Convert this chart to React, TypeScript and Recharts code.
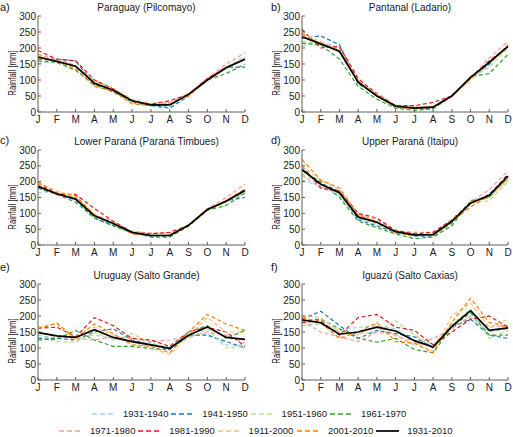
import React from "react";
import { LineChart, Line, XAxis, YAxis } from "recharts";

// month ticks
const months = ["J", "F", "M", "A", "M", "J", "J", "A", "S", "O", "N", "D"];
const monthIdx = [0, 1, 2, 3, 4, 5, 6, 7, 8, 9, 10, 11];
const yTicks = [0, 50, 100, 150, 200, 250, 300];

// decades (label typo "1911-2000" kept as in the figure)
const periods = [
  "1931-1940",
  "1941-1950",
  "1951-1960",
  "1961-1970",
  "1971-1980",
  "1981-1990",
  "1911-2000",
  "2001-2010",
  "1931-2010",
];

// rows follow the periods order, monthly rainfall in mm
const paraguay = [
  [152, 160, 140, 88, 70, 35, 22, 15, 55, 100, 140, 175],
  [165, 165, 160, 85, 68, 30, 20, 12, 50, 100, 140, 140],
  [180, 165, 145, 98, 75, 40, 28, 28, 55, 100, 135, 170],
  [160, 155, 130, 85, 62, 32, 20, 22, 55, 100, 120, 150],
  [180, 165, 145, 90, 72, 35, 25, 30, 58, 105, 150, 185],
  [192, 165, 160, 100, 72, 35, 25, 35, 55, 105, 140, 165],
  [175, 160, 140, 95, 70, 30, 25, 25, 50, 100, 140, 165],
  [170, 155, 135, 80, 65, 25, 20, 25, 50, 100, 140, 165],
  [172, 158, 143, 90, 68, 35, 22, 22, 55, 100, 138, 165],
];

const pantanal = [
  [205, 220, 200, 90, 55, 20, 15, 15, 50, 100, 150, 205],
  [230, 238, 210, 88, 52, 20, 12, 12, 50, 105, 150, 210],
  [220, 215, 195, 100, 55, 22, 18, 18, 50, 105, 140, 200],
  [215, 210, 165, 80, 40, 12, 5, 10, 50, 110, 120, 180],
  [240, 215, 200, 100, 60, 18, 15, 15, 55, 105, 170, 220],
  [258, 200, 205, 105, 55, 20, 20, 30, 50, 105, 160, 205],
  [245, 220, 185, 95, 55, 15, 12, 15, 50, 100, 155, 210],
  [245, 210, 190, 95, 50, 15, 10, 15, 50, 110, 155, 205],
  [235, 213, 190, 93, 50, 18, 12, 15, 50, 108, 155, 205],
];

const lowerParana = [
  [165, 165, 140, 90, 65, 40, 30, 32, 62, 110, 140, 165],
  [180, 160, 145, 85, 62, 38, 28, 28, 60, 110, 140, 150],
  [185, 165, 150, 95, 70, 45, 35, 30, 65, 110, 135, 180],
  [180, 160, 135, 85, 60, 40, 25, 25, 60, 110, 125, 165],
  [190, 158, 150, 95, 75, 42, 38, 38, 62, 115, 150, 192],
  [195, 160, 160, 115, 75, 40, 35, 40, 62, 112, 140, 175],
  [195, 170, 155, 95, 70, 40, 30, 32, 65, 115, 140, 170],
  [200, 165, 155, 95, 68, 35, 30, 30, 62, 112, 140, 175],
  [185, 162, 145, 92, 68, 40, 30, 30, 62, 112, 138, 172],
];

const upperParana = [
  [205, 185, 155, 85, 65, 40, 30, 30, 75, 135, 150, 210],
  [240, 195, 170, 80, 60, 40, 28, 28, 70, 130, 160, 220],
  [225, 190, 160, 90, 75, 48, 35, 30, 65, 135, 140, 200],
  [235, 200, 150, 75, 55, 35, 20, 25, 60, 140, 150, 215],
  [220, 180, 165, 95, 80, 45, 40, 40, 75, 135, 175, 235],
  [250, 180, 170, 100, 85, 45, 35, 40, 80, 135, 155, 225],
  [250, 205, 175, 90, 75, 40, 30, 30, 80, 130, 155, 205],
  [270, 205, 180, 95, 70, 38, 30, 30, 75, 120, 155, 210],
  [238, 192, 165, 88, 72, 42, 32, 33, 75, 132, 157, 218],
];

const uruguay = [
  [140, 130, 135, 140, 130, 120, 115, 100, 135, 145, 110, 108],
  [130, 130, 125, 150, 160, 125, 110, 95, 140, 140, 120, 100],
  [135, 120, 118, 150, 125, 145, 115, 100, 130, 160, 100, 105],
  [125, 128, 155, 125, 105, 105, 98, 95, 150, 170, 130, 155],
  [150, 135, 130, 125, 135, 130, 120, 125, 135, 150, 140, 115],
  [162, 165, 135, 195, 170, 130, 125, 105, 150, 165, 150, 105],
  [165, 175, 125, 165, 140, 120, 100, 80, 140, 195, 150, 150],
  [160, 178, 130, 175, 145, 110, 105, 85, 150, 205, 175, 155],
  [148, 138, 133, 157, 133, 120, 110, 99, 140, 166, 133, 127],
];

const iguazu = [
  [170, 175, 155, 165, 170, 160, 120, 110, 165, 195, 150, 160],
  [190, 215, 170, 130, 155, 145, 135, 100, 165, 190, 140, 130],
  [175, 175, 150, 145, 150, 185, 140, 110, 175, 220, 130, 155],
  [185, 190, 160, 130, 118, 130, 95, 85, 165, 210, 140, 140],
  [185, 150, 135, 120, 150, 140, 110, 130, 160, 200, 165, 170],
  [180, 185, 140, 195, 205, 165, 155, 110, 150, 190, 200, 165],
  [200, 195, 150, 140, 175, 140, 120, 90, 200, 240, 165, 190],
  [195, 180, 130, 150, 180, 120, 115, 85, 180, 255, 180, 165],
  [188, 179, 143, 150, 165, 153, 123, 103, 168, 217, 155, 163],
];

const colors = [
  "#a6cee3",
  "#1f78b4",
  "#b2df8a",
  "#33a02c",
  "#fb9a99",
  "#e31a1c",
  "#fdbf6f",
  "#ff7f00",
  "#000000",
];

const panels = [
  { letter: "a)", title: "Paraguay (Pilcomayo)", values: paraguay, col: 0, row: 0 },
  { letter: "b)", title: "Pantanal (Ladario)", values: pantanal, col: 1, row: 0 },
  { letter: "c)", title: "Lower Paraná (Paraná Timbues)", values: lowerParana, col: 0, row: 1 },
  { letter: "d)", title: "Upper Paraná (Itaipu)", values: upperParana, col: 1, row: 1 },
  { letter: "e)", title: "Uruguay (Salto Grande)", values: uruguay, col: 0, row: 2 },
  { letter: "f)", title: "Iguazú (Salto Caxias)", values: iguazu, col: 1, row: 2 },
];

// plot area geometry
const colX = [38, 302];
const colW = [207, 206];
const rowY = [16, 150, 284];
const rowH = [96, 95, 96];
const letterX = [0, 271];
const letterDy = [-9, -10, -17];

const AXIS = "#5e5e5e";
const TXT = "#1a1a1a";
const FONT = "'Liberation Sans', Arial, sans-serif";

function buildData(values: number[][]) {
  return monthIdx.map((i) => {
    const row: Record<string, number> = { i };
    periods.forEach((p, k) => {
      row[p] = values[k][i];
    });
    return row;
  });
}

function Panel({ p }: { p: (typeof panels)[number] }) {
  const px = colX[p.col];
  const py = rowY[p.row];
  const pw = colW[p.col];
  const ph = rowH[p.row];
  const data = buildData(p.values);
  const left = 30;
  const top = 5;
  const right = 6;
  const bottom = 16;
  return (
    <>
      <div
        style={{
          position: "absolute",
          left: px + pw / 2 + 5,
          top: py - 9,
          transform: "translate(-50%, -50%)",
          fontSize: 10,
          color: TXT,
          whiteSpace: "nowrap",
        }}
      >
        {p.title}
      </div>
      <div
        style={{
          position: "absolute",
          left: letterX[p.col],
          top: py + letterDy[p.row],
          transform: "translateY(-50%)",
          fontSize: 11,
          color: TXT,
        }}
      >
        {p.letter}
      </div>
      <div
        style={{
          position: "absolute",
          left: px - 26,
          top: py + 57,
          transform: "translate(-50%, -50%) rotate(-90deg) scaleX(0.74)",
          fontSize: 10.5,
          color: TXT,
          whiteSpace: "nowrap",
        }}
      >
        Rainfall [mm]
      </div>
      <div style={{ position: "absolute", left: px - left, top: py - top }}>
        <LineChart
          width={left + pw + right}
          height={top + ph + bottom}
          data={data}
          margin={{ top, right, left: 0, bottom: 0 }}
        >
          <XAxis
            xAxisId="b"
            dataKey="i"
            type="number"
            domain={[0, 11]}
            ticks={monthIdx}
            interval={0}
            tickFormatter={(v: number) => months[v]}
            height={bottom}
            tickSize={-3}
            tickMargin={7}
            stroke={AXIS}
            tick={{ fill: TXT, fontSize: 10 }}
          />
          <XAxis
            xAxisId="t"
            orientation="top"
            dataKey="i"
            type="number"
            domain={[0, 11]}
            ticks={monthIdx}
            interval={0}
            tickFormatter={() => ""}
            height={0}
            tickSize={-3}
            stroke={AXIS}
          />
          <YAxis
            yAxisId="l"
            domain={[0, 300]}
            ticks={yTicks}
            interval={0}
            width={left}
            tickSize={-3}
            tickMargin={5}
            stroke={AXIS}
            tick={{ fill: TXT, fontSize: 10 }}
          />
          <YAxis
            yAxisId="r"
            orientation="right"
            domain={[0, 300]}
            ticks={yTicks}
            interval={0}
            width={0}
            tickFormatter={() => ""}
            tickSize={-3}
            stroke={AXIS}
          />
          {periods.map((name, k) => (
            <Line
              key={name}
              xAxisId="b"
              yAxisId="l"
              dataKey={name}
              stroke={colors[k]}
              strokeWidth={k === 8 ? 1.7 : 1.2}
              strokeDasharray={k === 8 ? undefined : "4 2.5"}
              dot={false}
              activeDot={false}
              isAnimationActive={false}
            />
          ))}
        </LineChart>
      </div>
    </>
  );
}

function LegendItem({ k }: { k: number }) {
  return (
    <div style={{ display: "flex", alignItems: "center", width: 79.3 }}>
      <svg width={23} height={6} style={{ marginRight: 8 }}>
        <line
          x1={0}
          y1={3}
          x2={23}
          y2={3}
          stroke={colors[k]}
          strokeWidth={k === 8 ? 1.7 : 1.3}
          strokeDasharray={k === 8 ? undefined : "5 3"}
        />
      </svg>
      <span style={{ fontSize: 9.5, color: TXT, whiteSpace: "nowrap" }}>{periods[k]}</span>
    </div>
  );
}

export default function App() {
  return (
    <div
      style={{
        position: "absolute",
        left: 0,
        top: 0,
        width: 513,
        height: 437,
        background: "#fff",
        fontFamily: FONT,
        overflow: "hidden",
      }}
    >
      {panels.map((p) => (
        <Panel key={p.letter} p={p} />
      ))}
      <div style={{ position: "absolute", left: 92, top: 408, display: "flex" }}>
        {[0, 1, 2, 3].map((k) => (
          <LegendItem key={k} k={k} />
        ))}
      </div>
      <div style={{ position: "absolute", left: 59, top: 425, display: "flex" }}>
        {[4, 5, 6, 7, 8].map((k) => (
          <LegendItem key={k} k={k} />
        ))}
      </div>
    </div>
  );
}
